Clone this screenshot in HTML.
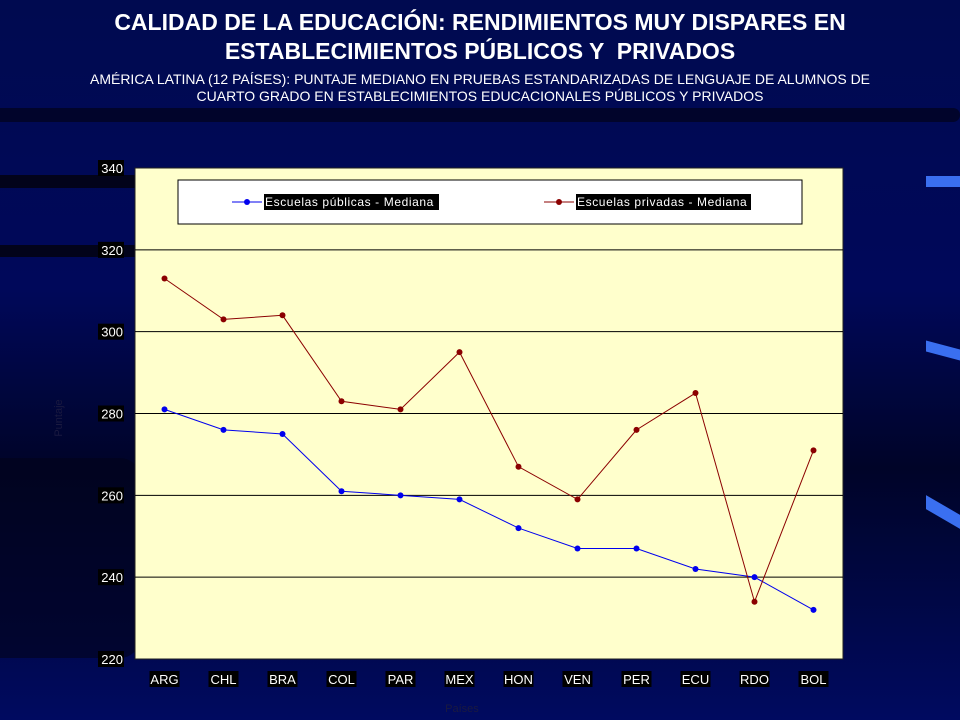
<!DOCTYPE html>
<html><head><meta charset="utf-8"><style>
body{margin:0;width:960px;height:720px;overflow:hidden;background:linear-gradient(180deg,#000a50 0%,#00085a 40%,#000428 65%,#000a60 100%);font-family:"Liberation Sans",sans-serif;position:relative}
.streak{position:absolute;background:#02031a;border-radius:0 20px 20px 0}
h1{position:absolute;left:0;top:8px;width:960px;margin:0;text-align:center;color:#fff;font-size:23px;line-height:29px;font-weight:bold}
h2{position:absolute;left:0;top:71px;width:1000px;margin:0 0 0 -20px;text-align:center;color:#fff;font-size:14px;line-height:17px;font-weight:normal}
</style></head><body>
<div class="streak" style="left:0;top:175px;width:140px;height:13px"></div>
<div class="streak" style="left:0;top:245px;width:140px;height:12px"></div>
<div class="streak" style="left:0;top:108px;width:960px;height:14px;opacity:.7"></div>
<div class="streak" style="left:0;top:458px;width:140px;height:200px;opacity:.6"></div>
<div style="position:absolute;left:926px;top:176px;width:34px;height:11px;background:#3a6ff0"></div>
<div style="position:absolute;left:926px;top:345px;width:34px;height:11px;background:#3a6ff0;transform:skewY(15deg)"></div>
<div style="position:absolute;left:926px;top:505px;width:34px;height:14px;background:#3a6ff0;transform:skewY(30deg)"></div>
<h1>CALIDAD DE LA EDUCACIÓN: RENDIMIENTOS MUY DISPARES EN<br>ESTABLECIMIENTOS PÚBLICOS Y &nbsp;PRIVADOS</h1>
<h2>AMÉRICA LATINA (12 PAÍSES): PUNTAJE MEDIANO EN PRUEBAS ESTANDARIZADAS DE LENGUAJE DE ALUMNOS DE<br>CUARTO GRADO EN ESTABLECIMIENTOS EDUCACIONALES PÚBLICOS Y PRIVADOS</h2>
<svg id="chart" width="960" height="720" style="position:absolute;left:0;top:0" font-family="Liberation Sans, sans-serif"></svg>
<script>
const categories=["ARG","CHL","BRA","COL","PAR","MEX","HON","VEN","PER","ECU","RDO","BOL"];
const publicValues=[281,276,275,261,260,259,252,247,247,242,240,232];
const privateValues=[313,303,304,283,281,295,267,259,276,285,234,271];
const yTicks=[220,240,260,280,300,320,340];
const L=135,R=843,T=168,B=659,yMin=220,yMax=340;
const svg=document.getElementById('chart');
const NS='http://www.w3.org/2000/svg';
function mk(tag,attrs,parent){const e=document.createElementNS(NS,tag);for(const k in attrs)e.setAttribute(k,attrs[k]);(parent||svg).appendChild(e);return e;}
const x=i=>L+(i+0.5)*(R-L)/categories.length;
const y=v=>B-(v-yMin)/(yMax-yMin)*(B-T);
const plot=mk('rect',{x:L,y:T,width:R-L,height:B-T,fill:'#ffffcc',stroke:'#222','stroke-width':1});


yTicks.forEach(t=>{
  if(t>yMin&&t<yMax){const g=mk('line',{x1:L,x2:R,y1:y(t),y2:y(t),stroke:'#000','stroke-width':1});
  
  }
  mk('rect',{x:98,y:y(t)-8,width:26,height:16,fill:'#000'});
  const tx=mk('text',{x:123,y:y(t)+5,'text-anchor':'end',fill:'#fff','font-size':13});
  tx.textContent=t;
  
  
});
categories.forEach((c,i)=>{
  mk('rect',{x:x(i)-15,y:671,width:30,height:16,fill:'#000'});
  const tx=mk('text',{x:x(i),y:684,'text-anchor':'middle',fill:'#fff','font-size':13});
  tx.textContent=c;
  
  
});
const yt=mk('text',{x:62,y:418,'text-anchor':'middle',fill:'#1a1a40','font-size':11,transform:'rotate(-90 62 418)'});
yt.textContent='Puntaje';


const xt=mk('text',{x:462,y:712,'text-anchor':'middle',fill:'#1a1a40','font-size':11});
xt.textContent='Países';


function series(vals,color,name){
  const p=mk('polyline',{points:vals.map((v,i)=>x(i)+','+y(v)).join(' '),fill:'none',stroke:color,'stroke-width':1});
  
  
  vals.forEach((v,i)=>{const c=mk('circle',{cx:x(i),cy:y(v),r:3,fill:color});
  
  });
}
series(publicValues,'#0000ee','public');
series(privateValues,'#8b0000','private');
const lg=mk('g',{});


mk('rect',{x:178,y:180,width:624,height:44,fill:'#fff',stroke:'#000','stroke-width':1},lg);
[['Escuelas públicas - Mediana','#0000ee',232],['Escuelas privadas - Mediana','#8b0000',544]].forEach(([t,c,lx])=>{
  mk('line',{x1:lx,x2:lx+30,y1:202,y2:202,stroke:c},lg);
  mk('circle',{cx:lx+15,cy:202,r:3,fill:c},lg);
  mk('rect',{x:lx+32,y:194,width:175,height:16,fill:'#000'},lg);
  const tx=mk('text',{x:lx+33,y:206,fill:'#fff','font-size':12,'letter-spacing':'0.6'},lg);
  tx.textContent=t;
  
  
});
</script>
</body></html>
